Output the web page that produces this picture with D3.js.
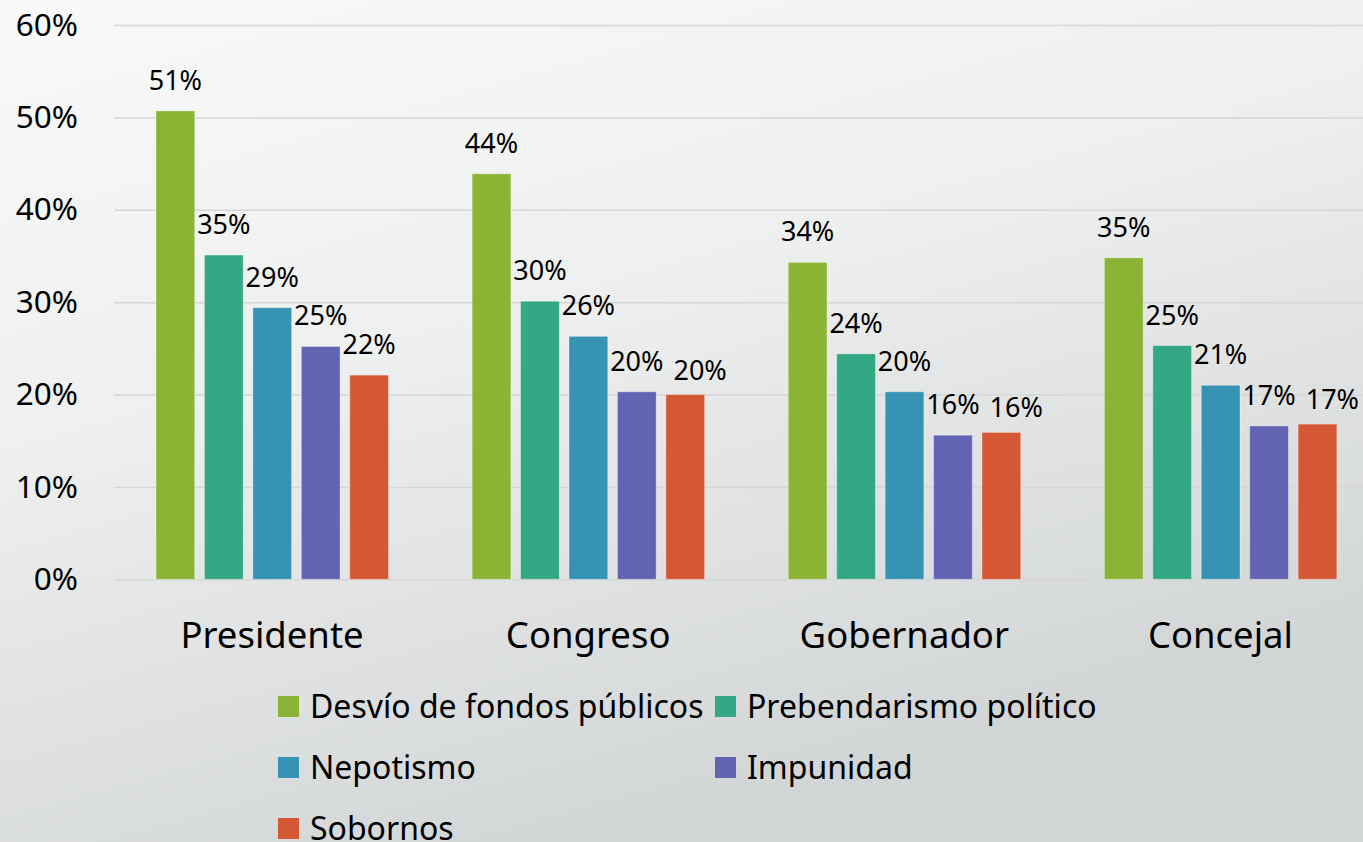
<!DOCTYPE html>
<html>
<head>
    <meta charset="utf-8">
    <style>
        body { margin: 0; }
        text { font-family: "Noto Sans", sans-serif; fill: #000; }
        .bar { stroke: rgba(255,255,255,0.35); stroke-width: 1px; }
    </style>
    <script src="https://d3js.org/d3.v7.min.js"></script>
</head>
<body>
    <div id="chart"></div>

    <script>
        var categories = ["Presidente", "Congreso", "Gobernador", "Concejal"];
        var seriesNames = ["Desvío de fondos públicos", "Prebendarismo político", "Nepotismo", "Impunidad", "Sobornos"];
        var desvio    = [0.507, 0.439, 0.343, 0.348];
        var prebenda  = [0.351, 0.301, 0.244, 0.253];
        var nepotismo = [0.294, 0.263, 0.203, 0.210];
        var impunidad = [0.252, 0.203, 0.156, 0.166];
        var sobornos  = [0.221, 0.200, 0.159, 0.168];
        var yTicks = [0, 0.1, 0.2, 0.3, 0.4, 0.5, 0.6];
        var colors = ["#8bb435", "#34a784", "#3693b4", "#6264b3", "#d45833"];

        var seriesValues = [desvio, prebenda, nepotismo, impunidad, sobornos];

        var width = 1363, height = 842;

        var svg = d3.select("#chart")
            .append("svg")
            .attr("width", width)
            .attr("height", height);

        // background gradient
        var grad = svg.append("defs").append("linearGradient")
            .attr("id", "bg")
            .attr("x1", "0").attr("y1", "0")
            .attr("x2", "0.45").attr("y2", "1");
        grad.append("stop").attr("offset", "0%").attr("stop-color", "#f9f9f9");
        grad.append("stop").attr("offset", "45%").attr("stop-color", "#eeefef");
        grad.append("stop").attr("offset", "100%").attr("stop-color", "#d2d5d6");

        svg.append("rect")
            .attr("width", width)
            .attr("height", height)
            .attr("fill", "url(#bg)");

        var x0 = d3.scaleBand()
            .domain(categories)
            .range([114, 1378.5]);

        var x1 = d3.scaleBand()
            .domain(seriesNames)
            .range([42, 274.5])
            .paddingInner(0.2);

        var y = d3.scaleLinear()
            .domain([0, 0.6])
            .range([579.3, 25]);

        // y axis with gridlines
        var yAxis = svg.append("g")
            .attr("transform", "translate(114,0)")
            .call(d3.axisLeft(y)
                .tickValues(yTicks)
                .tickFormat(d3.format(".0%"))
                .tickSize(-(width - 114))
                .tickPadding(36));
        yAxis.select(".domain").remove();
        yAxis.selectAll(".tick line")
            .attr("stroke", "#d6d6d6")
            .attr("stroke-width", 1.5);
        yAxis.selectAll(".tick text")
            .attr("font-size", "31.5px")
            .attr("font-family", "Noto Sans")
            .attr("fill", "#000");

        // bars
        var groups = svg.selectAll(".group")
            .data(categories)
            .enter()
            .append("g")
            .attr("class", "group")
            .attr("transform", function(d) { return "translate(" + x0(d) + ",0)"; });

        var fmt = d3.format(".0%");

        groups.each(function(cat, ci) {
            var g = d3.select(this);
            var items = seriesNames.map(function(s, si) {
                return { name: s, value: seriesValues[si][ci], color: colors[si] };
            });

            g.selectAll("rect")
                .data(items)
                .enter()
                .append("rect")
                .attr("class", "bar")
                .attr("x", function(d) { return x1(d.name); })
                .attr("y", function(d) { return y(d.value); })
                .attr("width", x1.bandwidth())
                .attr("height", function(d) { return y(0) - y(d.value); })
                .attr("fill", function(d) { return d.color; });

            var labels = g.selectAll("text.label")
                .data(items)
                .enter()
                .append("text")
                .attr("class", "label")
                .attr("x", function(d) { return x1(d.name) + x1.bandwidth() / 2; })
                .attr("y", function(d) { return y(d.value) - 21; })
                .attr("text-anchor", "middle")
                .attr("font-size", "27px")
                .text(function(d) { return fmt(d.value); });

            // nudge a label right (and a bit down) if it collides with the previous one
            var prev = null;
            labels.each(function() {
                var t = d3.select(this);
                var w = this.getComputedTextLength();
                var cx = +t.attr("x"), cy = +t.attr("y");
                if (prev && Math.abs(cy - prev.y) < 27 && cx - w / 2 < prev.right + 10) {
                    cx = prev.right + 10 + w / 2;
                    cy = cy + 6;
                    t.attr("x", cx).attr("y", cy);
                }
                prev = { right: cx + w / 2, y: cy };
            });
        });

        // category labels
        svg.selectAll(".cat")
            .data(categories)
            .enter()
            .append("text")
            .attr("class", "cat")
            .attr("x", function(d) { return x0(d) + x0.bandwidth() / 2; })
            .attr("y", 648)
            .attr("text-anchor", "middle")
            .attr("font-size", "36.5px")
            .text(function(d) { return d; });

        // legend
        var legend = svg.selectAll(".legend")
            .data(seriesNames)
            .enter()
            .append("g")
            .attr("class", "legend")
            .attr("transform", function(d, i) {
                var col = i % 2, row = Math.floor(i / 2);
                return "translate(" + (278 + col * 437) + "," + (696 + row * 61) + ")";
            });

        legend.append("rect")
            .attr("width", 21)
            .attr("height", 21)
            .attr("fill", function(d, i) { return colors[i]; });

        legend.append("text")
            .attr("x", 32)
            .attr("y", 22)
            .attr("font-size", "32px")
            .text(function(d) { return d; });
    </script>
</body>
</html>
